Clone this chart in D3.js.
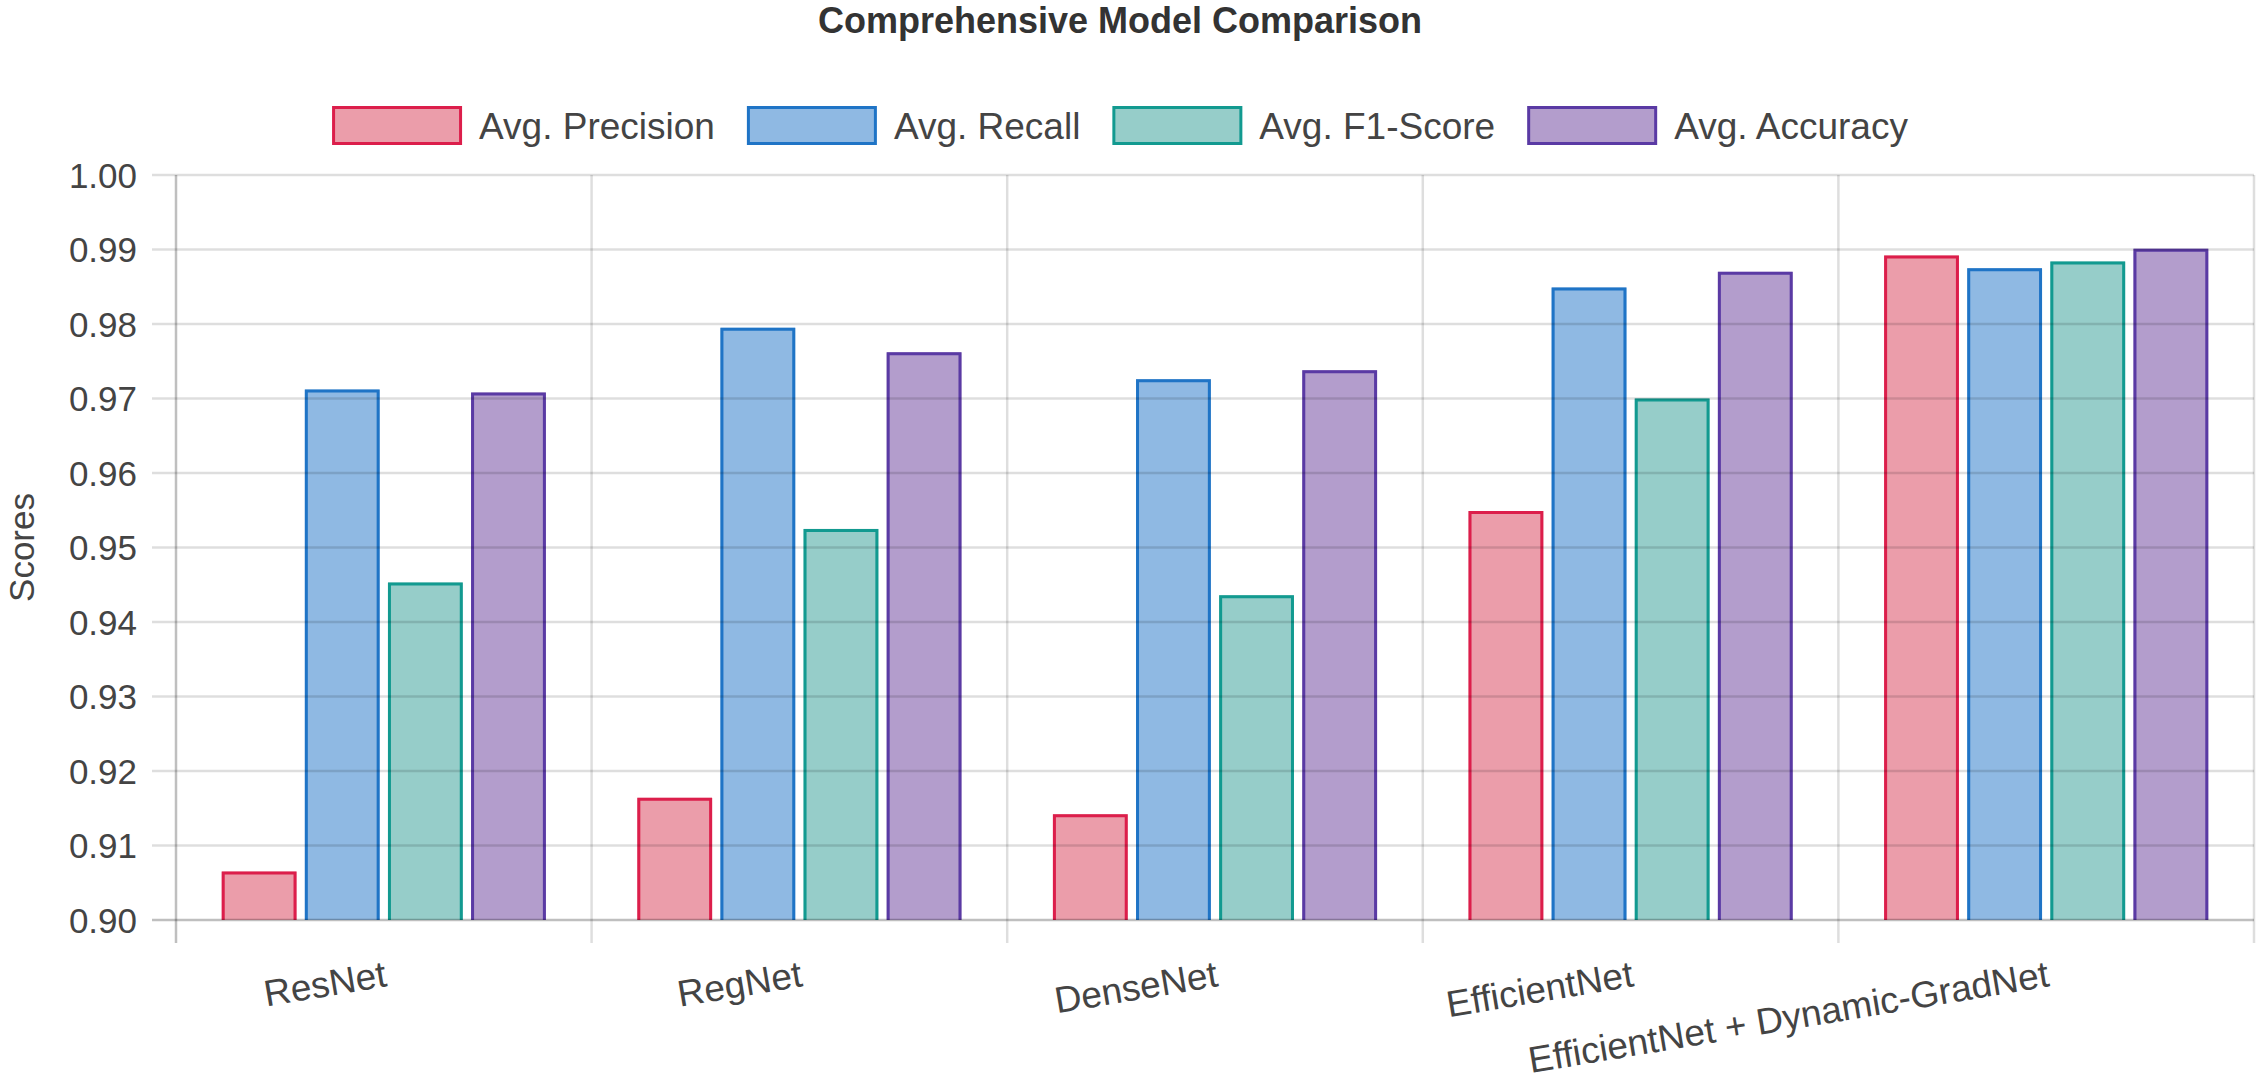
<!DOCTYPE html>
<html>
<head>
<meta charset="utf-8">
<script src="https://cdn.jsdelivr.net/npm/d3@7"></script>
<style>
  html, body { margin: 0; padding: 0; background: #fff; }
  svg { display: block; }
  text { font-family: "Liberation Sans", Arial, Helvetica, sans-serif; }
</style>
</head>
<body>
<svg id="chart" width="2258" height="1081"></svg>
<script>
const titleText = "Comprehensive Model Comparison";
const yAxisTitle = "Scores";
const categories = ["ResNet", "RegNet", "DenseNet", "EfficientNet", "EfficientNet + Dynamic-GradNet"];
const seriesNames = ["Avg. Precision", "Avg. Recall", "Avg. F1-Score", "Avg. Accuracy"];
const precision = [0.9065, 0.9164, 0.9142, 0.9549, 0.9892];
const recall    = [0.9712, 0.9795, 0.9726, 0.9849, 0.9875];
const f1score   = [0.9453, 0.9525, 0.9436, 0.9700, 0.9884];
const accuracy  = [0.9708, 0.9762, 0.9738, 0.9870, 0.9901];
const yTicks = [0.90, 0.91, 0.92, 0.93, 0.94, 0.95, 0.96, 0.97, 0.98, 0.99, 1.00];
const fills   = ["#eb9daa", "#8fb9e3", "#96cdc9", "#b39dcc"];
const strokes = ["#dc1e4b", "#1f74c6", "#129a90", "#5a3aa4"];

const seriesValues = [precision, recall, f1score, accuracy];

const svg = d3.select("#chart");
const plot = { left: 176, right: 2254, top: 175, bottom: 920 };

const x = d3.scaleBand().domain(categories).range([plot.left, plot.right]).paddingInner(0).paddingOuter(0);
const bw = x.bandwidth();
const xInner = d3.scaleBand().domain(seriesNames).range([0.1 * bw, 0.9 * bw]).paddingInner(0.1).paddingOuter(0.05);
const y = d3.scaleLinear().domain([0.90, 1.00]).range([plot.bottom, plot.top]);

// Bars
const barsG = svg.append("g");
seriesNames.forEach((s, si) => {
  const g = barsG.append("g");
  const data = categories.map((c, ci) => ({ c, v: seriesValues[si][ci] }));
  g.selectAll("rect").data(data).enter().append("rect")
    .attr("x", d => x(d.c) + xInner(s))
    .attr("y", d => y(d.v))
    .attr("width", xInner.bandwidth())
    .attr("height", d => y(0.90) - y(d.v))
    .attr("fill", fills[si]);
  g.selectAll("path").data(data).enter().append("path")
    .attr("d", d => {
      const x0 = x(d.c) + xInner(s) + 1.5, x1 = x(d.c) + xInner(s) + xInner.bandwidth() - 1.5;
      const yt = y(d.v) + 1.5, yb = y(0.90);
      return `M${x0},${yb} L${x0},${yt} L${x1},${yt} L${x1},${yb}`;
    })
    .attr("fill", "none")
    .attr("stroke", strokes[si])
    .attr("stroke-width", 3);
});

// Horizontal gridlines (faint, over bars)
const grid = svg.append("g");
grid.selectAll("line.h").data(yTicks).enter().append("line")
  .attr("x1", plot.left - 24).attr("x2", plot.right)
  .attr("y1", d => y(d)).attr("y2", d => y(d))
  .attr("stroke", d => d === 0.90 ? "rgba(0,0,0,0.25)" : "rgba(0,0,0,0.13)")
  .attr("stroke-width", 2.5);

// Vertical gridlines at category boundaries
const bounds = categories.map(c => x(c)).concat([plot.right]);
grid.selectAll("line.v").data(bounds).enter().append("line")
  .attr("x1", d => d).attr("x2", d => d)
  .attr("y1", plot.top).attr("y2", plot.bottom + 23)
  .attr("stroke", (d, i) => i === 0 ? "rgba(0,0,0,0.25)" : "rgba(0,0,0,0.13)")
  .attr("stroke-width", 2.5);

// Y tick labels
svg.append("g").selectAll("text").data(yTicks).enter().append("text")
  .attr("x", 137).attr("y", d => y(d))
  .attr("dy", "0.36em")
  .attr("text-anchor", "end")
  .attr("font-size", 35)
  .attr("fill", "#444")
  .text(d => d3.format(".2f")(d));

// Y axis title
svg.append("text")
  .attr("transform", `translate(34, ${(plot.top + plot.bottom) / 2}) rotate(-90)`)
  .attr("text-anchor", "middle")
  .attr("font-size", 35)
  .attr("fill", "#444")
  .text(yAxisTitle);

// X labels (rotated)
svg.append("g").selectAll("g").data(categories).enter().append("g")
  .attr("transform", d => `translate(${x(d) + bw / 2 + 2}, 973) rotate(-9.5)`)
  .append("text")
  .attr("text-anchor", "end")
  .attr("dy", "0.36em")
  .attr("font-size", 37)
  .attr("fill", "#444")
  .text(d => d);

// Title
svg.append("text")
  .attr("x", 1120).attr("y", 33)
  .attr("text-anchor", "middle")
  .attr("font-size", 36)
  .attr("font-weight", "bold")
  .attr("fill", "#333")
  .text(titleText);

// Legend
const legend = svg.append("g");
const boxW = 130, boxH = 39, gapBoxText = 17, gapItems = 32;
const items = seriesNames.map((s, i) => {
  const g = legend.append("g");
  g.append("rect").attr("x", 1.5).attr("y", 106 + 1.5).attr("width", boxW - 3).attr("height", boxH - 3)
    .attr("fill", fills[i]).attr("stroke", strokes[i]).attr("stroke-width", 3);
  const t = g.append("text").attr("x", boxW + gapBoxText).attr("y", 106 + boxH / 2).attr("dy", "0.36em")
    .attr("font-size", 37).attr("fill", "#444").text(s);
  return { g, w: boxW + gapBoxText + t.node().getComputedTextLength() };
});
const totalW = d3.sum(items, d => d.w) + gapItems * (items.length - 1);
let cx = 1120 - totalW / 2;
items.forEach(it => { it.g.attr("transform", `translate(${cx},0)`); cx += it.w + gapItems; });
</script>
</body>
</html>
